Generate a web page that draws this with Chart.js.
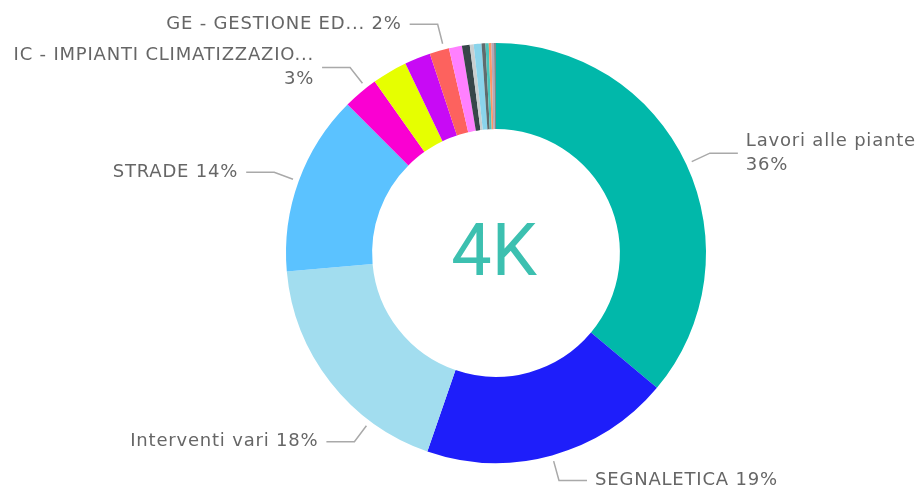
<!DOCTYPE html>
<html>
<head>
<meta charset="utf-8">
<script src="https://cdn.jsdelivr.net/npm/chart.js@4/dist/chart.umd.min.js"></script>
<style>
  html, body { margin: 0; padding: 0; background: #fff; }
  #wrap { width: 921px; height: 488px; }
</style>
</head>
<body>
<div id="wrap"><canvas id="donut" width="921" height="488"></canvas></div>
<script>
// slices, clockwise from 12 o'clock
const categories = [
  'Lavori alle piante', 'SEGNALETICA', 'Interventi vari', 'STRADE',
  'IC - IMPIANTI CLIMATIZZAZIONE', 'EL - IMPIANTI ELETTRICI', 'ED - EDILIZIA',
  'GE - GESTIONE EDIFICI', 'VE - VERDE', 'ID - IDRAULICA', 'AR - ARREDI',
  'IL - ILLUMINAZIONE', 'FG - FOGNATURE', 'PU - PULIZIE', 'SG - SGOMBERI',
  'TR - TRASLOCHI', 'AL - ALTRO'
];
const values = [1444, 768, 732, 556, 108, 108, 80, 60, 40, 24, 12, 24, 12, 10, 8, 8, 6];
const colors = [
  '#01B8AA', '#1E1EFA', '#A2DDEF', '#5BC2FF', '#FA00D2', '#E6FF00', '#C80AF5',
  '#FD625E', '#FF80FF', '#374649', '#C9CFD0', '#8AD4EB', '#5F6B6D', '#4AC5BB',
  '#FE9666', '#B3A8B8', '#7F898A'
];

// which slices get an outside label
const labelNames = {0: 'Lavori alle piante', 1: 'SEGNALETICA', 2: 'Interventi vari', 3: 'STRADE',
  4: 'IC - IMPIANTI CLIMATIZZAZIO...', 7: 'GE - GESTIONE ED...'};
const labelWrap = {0: true, 4: true};
const labelFrac = {0: 0.5, 1: 0.5, 2: 0.27, 3: 0.5, 4: 0.7, 7: 0.75};

const total = values.reduce((a, b) => a + b, 0);

function shortNum(v) {
  if (v >= 1000) return Math.round(v / 1000) + 'K';
  return String(v);
}

const labelFont = '18px "DejaVu Sans"';

const calloutPlugin = {
  id: 'callouts',
  afterDraw(chart) {
    const ctx = chart.ctx;
    const meta = chart.getDatasetMeta(0);
    ctx.save();
    Object.keys(labelNames).forEach(k => {
      const i = Number(k);
      const arc = meta.data[i];
      const p = arc.getProps(['x', 'y', 'startAngle', 'endAngle', 'outerRadius'], true);
      const a = p.startAngle + labelFrac[i] * (p.endAngle - p.startAngle);
      const r0 = p.outerRadius + 6, r1 = r0 + 20;
      const x0 = p.x + r0 * Math.cos(a), y0 = p.y + r0 * Math.sin(a);
      const x1 = p.x + r1 * Math.cos(a), y1 = p.y + r1 * Math.sin(a);
      const right = Math.cos(a) >= 0;
      const x2 = right ? x1 + 28 : x1 - 28;
      ctx.strokeStyle = '#a9a9a9';
      ctx.lineWidth = 1.5;
      ctx.beginPath();
      ctx.moveTo(x0, y0); ctx.lineTo(x1, y1); ctx.lineTo(x2, y1);
      ctx.stroke();

      const pct = Math.round(values[i] / total * 100) + '%';
      ctx.fillStyle = '#666666';
      ctx.font = labelFont;
      ctx.letterSpacing = '0.8px';
      ctx.textBaseline = 'middle';
      ctx.textAlign = right ? 'left' : 'right';
      const tx = right ? x2 + 8 : x2 - 8;
      if (labelWrap[i]) {
        ctx.fillText(labelNames[i], tx, y1 - 12);
        ctx.fillText(pct, tx, y1 + 12);
      } else {
        ctx.fillText(labelNames[i] + ' ' + pct, tx, y1);
      }
    });

    // total in the hole
    const c = meta.data[0];
    ctx.letterSpacing = '0px';
    ctx.fillStyle = '#3CC0B0';
    ctx.font = '72px Roboto';
    ctx.textAlign = 'center';
    ctx.textBaseline = 'alphabetic';
    ctx.fillText(shortNum(total), c.x - 2, c.y + 22);
    ctx.restore();
  }
};

new Chart(document.getElementById('donut').getContext('2d'), {
  type: 'doughnut',
  data: {
    labels: categories,
    datasets: [{
      data: values,
      backgroundColor: colors,
      borderWidth: 0
    }]
  },
  options: {
    responsive: false,
    animation: false,
    cutout: '59%',
    layout: { padding: { left: 286, right: 215, top: 43, bottom: 25 } },
    plugins: {
      legend: { display: false },
      tooltip: { enabled: false }
    }
  },
  plugins: [calloutPlugin]
});
</script>
</body>
</html>
